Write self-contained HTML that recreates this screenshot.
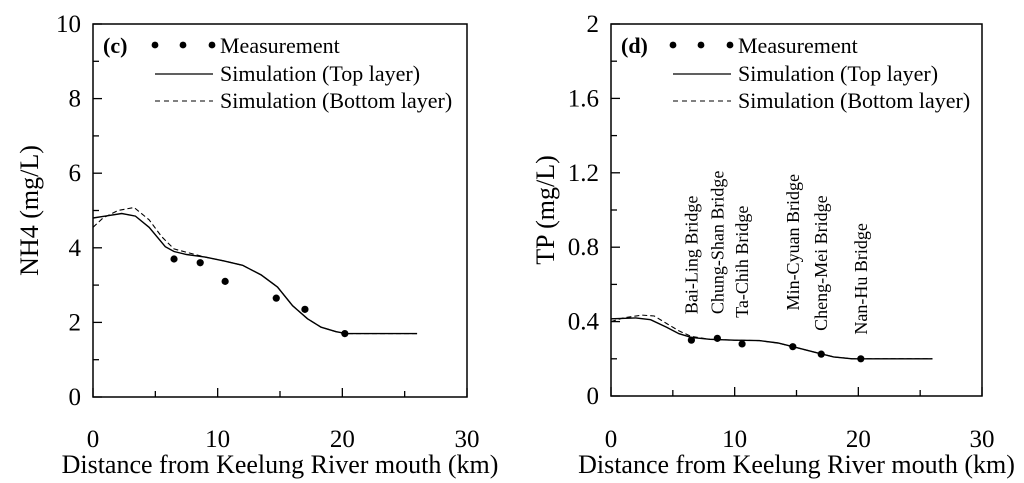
<!DOCTYPE html>
<html><head><meta charset="utf-8"><style>
html,body{margin:0;padding:0;background:#fff;}
svg{display:block;font-family:"Liberation Serif",serif;}
</style></head><body>
<svg id="chart" width="1024" height="483" viewBox="0 0 1024 483" xmlns="http://www.w3.org/2000/svg"></svg>
<script>
const measX = [6.5, 8.6, 10.6, 14.7, 17.0, 20.2];
const nh4Meas = [3.7, 3.6, 3.1, 2.65, 2.35, 1.7];
const nh4TopX = [0,1,2.3,3.4,4.5,5.8,6.5,7.5,9,10.5,12,13.5,14.8,16,17.2,18.3,19.5,20.3,26];
const nh4TopY = [4.8,4.85,4.92,4.85,4.55,4.03,3.9,3.82,3.75,3.65,3.53,3.27,2.95,2.45,2.1,1.87,1.75,1.7,1.7];
const nh4BotX = [0,0.8,2,3.3,4.5,5.5,6.5,7.5,9,10.5,12,13.5,14.8,16,17.2,18.3,19.5,20.3,26];
const nh4BotY = [4.55,4.8,5.0,5.08,4.75,4.3,3.97,3.88,3.75,3.65,3.53,3.27,2.95,2.45,2.1,1.87,1.75,1.7,1.7];
const tpMeas = [0.3, 0.31, 0.28, 0.265, 0.225, 0.2];
const tpTopX = [0,2,3.2,4.5,5.5,6.5,8,10,12,13.5,15,16.5,18,19.5,26];
const tpTopY = [0.415,0.42,0.41,0.37,0.335,0.315,0.305,0.3,0.298,0.285,0.26,0.235,0.21,0.2,0.2];
const tpBotX = [0,1,2.5,3.5,4.5,5.5,6.5,8,10,12,13.5,15,16.5,18,19.5,26];
const tpBotY = [0.4,0.42,0.435,0.43,0.39,0.35,0.32,0.305,0.3,0.298,0.285,0.26,0.235,0.21,0.2,0.2];
const bridgeNames = ["Bai-Ling Bridge","Chung-Shan Bridge","Ta-Chih Bridge","Min-Cyuan Bridge","Cheng-Mei Bridge","Nan-Hu Bridge"];
const bridgeX = [6.5, 8.6, 10.6, 14.7, 17.0, 20.2];
const bridgeLabelY = [0.44, 0.44, 0.42, 0.46, 0.35, 0.33];
const xTicks = [0,10,20,30];
const nh4Ticks = ["0","2","4","6","8","10"];
const tpTicks = ["0","0.4","0.8","1.2","1.6","2"];

const NS="http://www.w3.org/2000/svg";
const svg=document.getElementById('chart');
function mk(tag,attrs,parent,text){const e=document.createElementNS(NS,tag);for(const k in attrs)e.setAttribute(k,attrs[k]);if(text!==undefined)e.textContent=text;(parent||svg).appendChild(e);return e;}

function panel(o){
  const g=mk('g',{});
  
  
  const sx=v=>o.x0+(v/30)*(o.x1-o.x0);
  const sy=v=>o.y0-(v/o.ymax)*(o.y0-o.y1);
  const fr=mk('rect',{x:o.x0,y:o.y1,width:o.x1-o.x0,height:o.y0-o.y1,fill:'none',stroke:'#000','stroke-width':1.5},g);
  
  
  for(let v=0;v<=30;v+=5){const major=v%10===0;
    mk('line',{x1:sx(v),x2:sx(v),y1:o.y0,y2:o.y0-(major?9:6),stroke:'#000','stroke-width':1.3},g);}
  xTicks.forEach(v=>{const t=mk('text',{x:sx(v),y:447,'font-size':25,'text-anchor':'middle'},g,String(v));
    
    });
  const n=o.ticks.length-1;
  for(let i=0;i<=2*n;i++){const v=o.ymax*i/(2*n);const major=i%2===0;
    mk('line',{x1:o.x0,x2:o.x0+(major?9:6),y1:sy(v),y2:sy(v),stroke:'#000','stroke-width':1.3},g);}
  o.ticks.forEach((lab,i)=>{const t=mk('text',{x:o.x0-12,y:sy(o.ymax*i/n)+8,'font-size':25,'text-anchor':'end'},g,lab);
    
    });
  const xt=mk('text',{x:(o.x0+o.x1)/2,y:473,'font-size':26,'text-anchor':'middle'},g,'Distance from Keelung River mouth (km)');
  
  
  const yt=mk('text',{x:0,y:0,'font-size':26,'text-anchor':'middle',transform:`translate(${o.ytx},${(o.y0+o.y1)/2}) rotate(-90)`},g,o.ytitle);
  
  
  const path=(xs,ys)=>xs.map((x,i)=>(i?'L':'M')+sx(x).toFixed(1)+','+sy(ys[i]).toFixed(1)).join(' ');
  const bl=mk('path',{d:path(o.botX,o.botY),fill:'none',stroke:'#000','stroke-width':1.1,'stroke-dasharray':'5,3'},g);
  
  
  const tl=mk('path',{d:path(o.topX,o.topY),fill:'none',stroke:'#000','stroke-width':1.4},g);
  
  
  measX.forEach((x,i)=>{const c=mk('circle',{cx:sx(x),cy:sy(o.meas[i]),r:3.6,fill:'#000'},g);
    
    });
  const lx=o.x0;
  const pl=mk('text',{x:lx+10,y:53,'font-size':22,'font-weight':'bold'},g,o.label);
  
  
  [62,90,119].forEach(d=>mk('circle',{cx:lx+d,cy:45,r:3.4,fill:'#000'},g));
  mk('line',{x1:lx+62,x2:lx+120,y1:74,y2:74,stroke:'#000','stroke-width':1.3},g);
  mk('line',{x1:lx+62,x2:lx+120,y1:101,y2:101,stroke:'#000','stroke-width':1.1,'stroke-dasharray':'5,4'},g);
  [['Measurement',53],['Simulation (Top layer)',81],['Simulation (Bottom layer)',108]].forEach(([s,y])=>{
    const t=mk('text',{x:lx+127,y:y,'font-size':22},g,s);
    
    });
  return {sx,sy,g};
}
panel({name:'nh4-panel',x0:93,x1:467,y0:397,y1:24,ymax:10,ticks:nh4Ticks,ytitle:'NH4 (mg/L)',ytx:38,
  topX:nh4TopX,topY:nh4TopY,botX:nh4BotX,botY:nh4BotY,meas:nh4Meas,label:'(c)'});
const p2=panel({name:'tp-panel',x0:611,x1:982,y0:396,y1:24,ymax:2,ticks:tpTicks,ytitle:'TP (mg/L)',ytx:554,
  topX:tpTopX,topY:tpTopY,botX:tpBotX,botY:tpBotY,meas:tpMeas,label:'(d)'});
bridgeNames.forEach((nm,i)=>{const x=p2.sx(bridgeX[i])+6,y=p2.sy(bridgeLabelY[i]);
  const t=mk('text',{x:0,y:0,'font-size':18,transform:`translate(${x},${y}) rotate(-90)`},p2.g,nm);
  
  });
</script>
</body></html>
